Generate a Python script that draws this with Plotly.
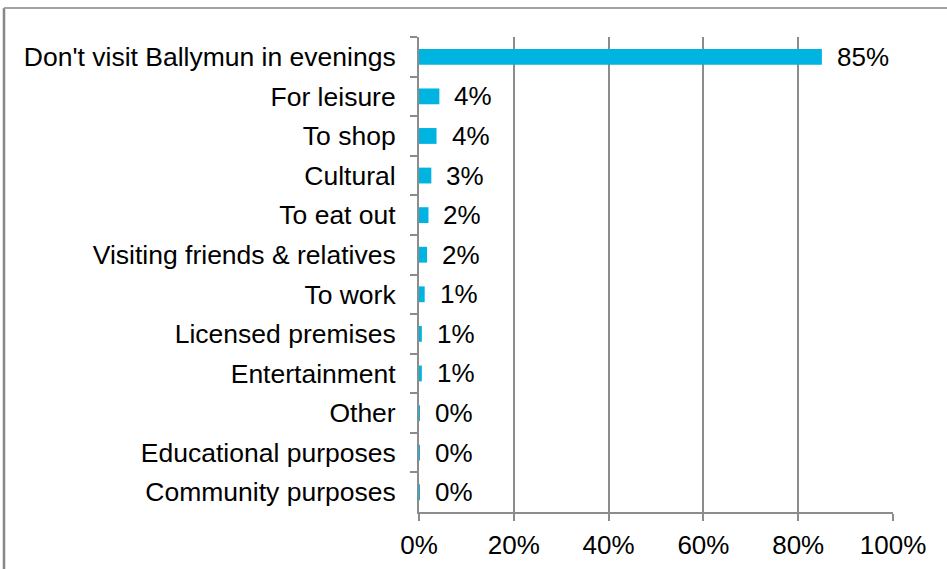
import plotly.graph_objects as go

# Reasons for visiting Ballymun in the evening (share of respondents, %)
categories = [
    "Don't visit Ballymun in evenings",
    "For leisure",
    "To shop",
    "Cultural",
    "To eat out",
    "Visiting friends & relatives",
    "To work",
    "Licensed premises",
    "Entertainment",
    "Other",
    "Educational purposes",
    "Community purposes",
]
values = [85.0, 4.3, 3.7, 2.6, 2.0, 1.7, 1.2, 0.6, 0.6, 0.2, 0.2, 0.2]
x_ticks = [0, 20, 40, 60, 80, 100]
x_tick_labels = ["0%", "20%", "40%", "60%", "80%", "100%"]

W, H = 947, 569
L, R, T, B = 419, 54, 37, 57
plot_w = W - L - R
plot_h = H - T - B

FONT = "Liberation Sans, Arial, sans-serif"
GRAY = "#8c8c8c"
FS = 26.5

fig = go.Figure(
    go.Bar(
        x=values,
        y=categories,
        orientation="h",
        marker=dict(color="#00b4e1", line=dict(width=0)),
        width=0.4,
        hoverinfo="skip",
    )
)

# value labels to the right of each bar
for cat, v in zip(categories, values):
    fig.add_annotation(
        x=v, y=cat, xref="x", yref="y",
        text=f"{round(v):.0f}%",
        showarrow=False, xanchor="left", yanchor="middle",
        xshift=13,
        font=dict(family=FONT, size=26, color="#000000"),
    )

# chart frame (left and top edges)
fx = (4 - L) / plot_w
fy = 1 + (T - 8) / plot_h
fig.add_shape(type="line", xref="paper", yref="paper",
              x0=fx, x1=fx, y0=-0.5, y1=fy,
              line=dict(color="#878787", width=2.5))
fig.add_shape(type="line", xref="paper", yref="paper",
              x0=fx, x1=1.5, y0=fy, y1=fy,
              line=dict(color="#a3a3a3", width=2))

fig.update_layout(
    width=W, height=H,
    margin=dict(l=L, r=R, t=T, b=B, pad=0, autoexpand=False),
    paper_bgcolor="white",
    plot_bgcolor="white",
    showlegend=False,
    font=dict(family=FONT, size=26, color="#000000"),
    bargap=0.6,
)
fig.update_xaxes(
    range=[0, 100],
    automargin=False,
    tickvals=x_ticks, ticktext=x_tick_labels,
    showgrid=True, gridcolor=GRAY, gridwidth=1.5,
    showline=True, linecolor=GRAY, linewidth=2,
    ticks="outside", ticklen=7, tickcolor=GRAY, tickwidth=2,
    ticklabelstandoff=2,
    zeroline=False,
    tickfont=dict(family=FONT, size=26, color="#000000"),
)
fig.update_yaxes(
    autorange="reversed",
    automargin=False,
    showline=True, linecolor=GRAY, linewidth=2,
    ticks="outside", ticklen=7, tickcolor=GRAY, tickwidth=2,
    tickson="boundaries",
    ticklabelstandoff=16,
    showgrid=False,
    tickfont=dict(family=FONT, size=FS, color="#000000"),
)

fig.write_html("out.html")
